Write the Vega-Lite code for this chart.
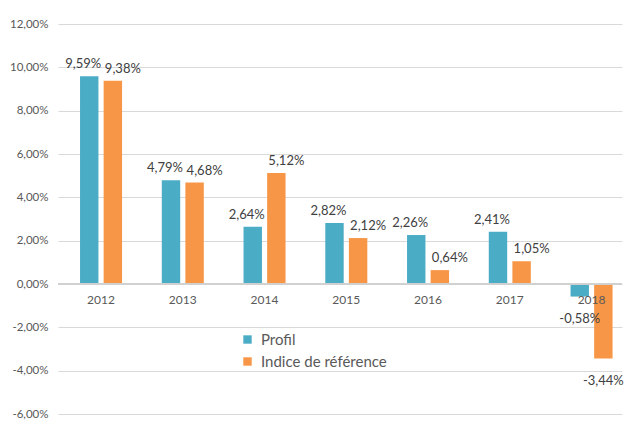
{
  "$schema": "https://vega.github.io/schema/vega-lite/v6.json",
  "width": 564,
  "height": 390,
  "autosize": {"type": "none"},
  "padding": {"left": 58, "top": 24, "right": 8, "bottom": 22},
  "background": "white",
  "config": {
    "locale": {"number": {"decimal": ",", "thousands": " ", "grouping": [3], "currency": ["", " €"], "minus": "-"}},
    "view": {"stroke": null},
    "font": "Lato",
    "text": {"font": "Lato", "fontSize": 13, "color": "#404040"}
  },
  "data": {
    "values": [
      {"annee": "2012", "serie": "Profil", "valeur": 0.0959},
      {"annee": "2012", "serie": "Indice de référence", "valeur": 0.0938},
      {"annee": "2013", "serie": "Profil", "valeur": 0.0479},
      {"annee": "2013", "serie": "Indice de référence", "valeur": 0.0468},
      {"annee": "2014", "serie": "Profil", "valeur": 0.0264},
      {"annee": "2014", "serie": "Indice de référence", "valeur": 0.0512},
      {"annee": "2015", "serie": "Profil", "valeur": 0.0282},
      {"annee": "2015", "serie": "Indice de référence", "valeur": 0.0212},
      {"annee": "2016", "serie": "Profil", "valeur": 0.0226},
      {"annee": "2016", "serie": "Indice de référence", "valeur": 0.0064},
      {"annee": "2017", "serie": "Profil", "valeur": 0.0241},
      {"annee": "2017", "serie": "Indice de référence", "valeur": 0.0105},
      {"annee": "2018", "serie": "Profil", "valeur": -0.0058},
      {"annee": "2018", "serie": "Indice de référence", "valeur": -0.0344}
    ]
  },
  "encoding": {
    "x": {"field": "annee", "type": "nominal", "axis": null, "scale": {"paddingInner": 0.486, "paddingOuter": 0.1925, "align": 0.7}},
    "xOffset": {"field": "serie", "type": "nominal", "sort": ["Profil", "Indice de référence"], "scale": {"paddingInner": 0.22}}
  },
  "layer": [
    {
      "mark": {"type": "bar"},
      "encoding": {
        "y": {
          "field": "valeur", "type": "quantitative",
          "scale": {"domain": [-0.06, 0.12], "nice": false, "zero": true},
          "axis": {
            "title": null, "format": ".2%", "values": [-0.06, -0.04, -0.02, 0, 0.02, 0.04, 0.06, 0.08, 0.1, 0.12],
            "domain": false, "ticks": false, "labelPadding": 10, "labelColor": "#595959", "labelFontSize": 11.5,
            "labelFont": "Lato", "gridColor": "#d9d9d9", "gridWidth": 1
          }
        },
        "color": {
          "field": "serie", "type": "nominal",
          "scale": {"domain": ["Profil", "Indice de référence"], "range": ["#4bacc6", "#f79646"]},
          "legend": {
            "title": null, "orient": "none", "legendX": 182, "legendY": 308, "symbolType": "square",
            "symbolSize": 70, "symbolStrokeWidth": 0, "labelFontSize": 15, "labelColor": "#595959", "labelFont": "Lato",
            "rowPadding": 6, "labelOffset": 6
          }
        }
      }
    },
    {
      "mark": {"type": "rule", "color": "#d0d0d0"},
      "encoding": {"y": {"datum": 0}, "x": {"value": 0}, "x2": {"value": 564}, "xOffset": null}
    },
    {
      "transform": [{"filter": "datum.serie === 'Profil'"}],
      "mark": {"type": "text", "baseline": "middle", "dy": 16, "color": "#595959", "fontSize": 12},
      "encoding": {"y": {"datum": 0}, "text": {"field": "annee"}, "xOffset": null}
    },
    {
      "transform": [{"filter": "datum.valeur >= 0 && datum.serie === 'Profil'"}],
      "mark": {"type": "text", "baseline": "bottom", "dy": -5, "dx": -6},
      "encoding": {"y": {"field": "valeur", "type": "quantitative"}, "text": {"field": "valeur", "format": ".2%"}}
    },
    {
      "transform": [{"filter": "datum.valeur >= 0 && datum.serie !== 'Profil'"}],
      "mark": {"type": "text", "baseline": "bottom", "dy": -5, "dx": 10},
      "encoding": {"y": {"field": "valeur", "type": "quantitative"}, "text": {"field": "valeur", "format": ".2%"}}
    },
    {
      "transform": [{"filter": "datum.valeur < 0"}],
      "mark": {"type": "text", "baseline": "top", "dy": 16},
      "encoding": {"y": {"field": "valeur", "type": "quantitative"}, "text": {"field": "valeur", "format": ".2%"}}
    }
  ]
}
